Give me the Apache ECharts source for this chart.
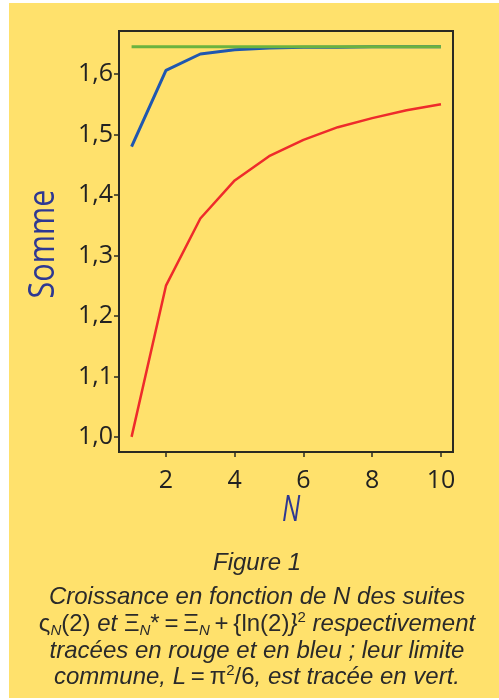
<!DOCTYPE html>
<html>
<head>
<meta charset="utf-8">
<script src="https://cdn.jsdelivr.net/npm/echarts@6/dist/echarts.min.js"></script>
<style>
html,body{margin:0;padding:0;background:#ffffff;}
#chart{width:499px;height:700px;}
</style>
</head>
<body>
<div id="chart"></div>
<script>
// ---- data ----
const nValues = [1, 2, 3, 4, 5, 6, 7, 8, 9, 10];
const zetaValues = [1.000, 1.250, 1.361, 1.424, 1.464, 1.491, 1.512, 1.527, 1.540, 1.550]; // rouge
const xiStarValues = [1.480, 1.606, 1.633, 1.640, 1.643, 1.644, 1.644, 1.645, 1.645, 1.645]; // bleu
const limitValues = [1.645, 1.645, 1.645, 1.645, 1.645, 1.645, 1.645, 1.645, 1.645, 1.645]; // vert
const xTicks = [2, 4, 6, 8, 10];
const yTicks = [1.0, 1.1, 1.2, 1.3, 1.4, 1.5, 1.6];
const yTickLabels = ['1,0', '1,1', '1,2', '1,3', '1,4', '1,5', '1,6'];
const xAxisTitle = 'N';
const yAxisTitle = 'Somme';

const YELLOW = '#FFE16C';
const INK = '#2a2a22';
const NAMEBLUE = '#2E3892';

function pairs(ys) { return nValues.map((n, i) => [n, ys[i]]); }

const chart = echarts.init(document.getElementById('chart'), null, {renderer: 'canvas'});

const tickFont = {fontFamily: '"Open Sans", "Liberation Sans", sans-serif', fontWeight: 400, fontSize: 25, color: '#222'};
const capFont = '"Liberation Sans", Arial, sans-serif';
const CAPCOL = '#2a2a2a';
const rich = {
  r: {fontFamily: capFont, fontStyle: 'normal', fontSize: 24, color: CAPCOL, lineHeight: 28},
  sub: {fontFamily: capFont, fontStyle: 'italic', fontSize: 15, color: CAPCOL, lineHeight: 15, verticalAlign: 'bottom'},
  sup: {fontFamily: capFont, fontStyle: 'normal', fontSize: 15, color: CAPCOL, lineHeight: 15, verticalAlign: 'top'}
};
function capLine(txt, y) {
  return {
    type: 'text', x: 257, y: y, z: 10, silent: true,
    style: {
      text: txt, x: 0, y: 0,
      textAlign: 'center', textVerticalAlign: 'middle',
      fontFamily: capFont, fontStyle: 'italic', fontSize: 24, fill: CAPCOL,
      lineHeight: 28, rich: rich
    }
  };
}

const option = {
  animation: false,
  backgroundColor: '#ffffff',
  graphic: [
    {type: 'rect', shape: {x: 9, y: 3, width: 490, height: 695}, style: {fill: YELLOW}, z: -100, silent: true},
    // axis titles (condensed)
    {type: 'text', x: 44, y: 244, rotation: Math.PI / 2, scaleX: 0.85, z: 10, silent: true,
     style: {text: yAxisTitle, textAlign: 'center', textVerticalAlign: 'middle',
             fontFamily: '"Open Sans", "Liberation Sans", sans-serif', fontWeight: 400, fontSize: 36, fill: NAMEBLUE}},
    {type: 'text', x: 291, y: 510, scaleX: 0.7, z: 10, silent: true,
     style: {text: xAxisTitle, textAlign: 'center', textVerticalAlign: 'middle',
             fontFamily: '"Open Sans", "Liberation Sans", sans-serif', fontWeight: 400, fontStyle: 'italic', fontSize: 37, fill: NAMEBLUE}},
    capLine('Figure 1', 563),
    capLine('Croissance en fonction de N des suites', 597),
    capLine('{r|ς}{sub|N}{r|(2)} et {r|Ξ}{sub|N}{r|*\u2009=\u2009Ξ}{sub|N}{r|\u2009+\u2009{ln(2)}}{sup|2} respectivement', 624),
    capLine('tracées en rouge et en bleu ; leur limite', 651),
    capLine('commune, L{r|\u2009=\u2009π}{sup|2}{r|/6}, est tracée en vert.', 677)
  ],
  grid: {
    left: 119, top: 31, right: 46, bottom: 248,
    show: true, borderColor: INK, borderWidth: 2, backgroundColor: 'transparent'
  },
  xAxis: {
    type: 'value', min: 0.634, max: 10.35,
    axisLine: {show: true, onZero: false, lineStyle: {color: INK, width: 2}},
    axisTick: {show: true, length: 5, inside: false, customValues: xTicks, lineStyle: {color: INK, width: 1.5}},
    axisLabel: Object.assign({margin: 16, customValues: xTicks, formatter: v => String(v)}, tickFont),
    splitLine: {show: false}
  },
  yAxis: {
    type: 'value', min: 0.975, max: 1.671,
    axisLine: {show: true, onZero: false, lineStyle: {color: INK, width: 2}},
    axisTick: {show: true, length: 5, inside: false, customValues: yTicks, lineStyle: {color: INK, width: 1.5}},
    axisLabel: Object.assign({margin: 6, customValues: yTicks,
      formatter: v => { const i = yTicks.findIndex(t => Math.abs(t - v) < 1e-6); return i >= 0 ? yTickLabels[i] : ''; }
    }, tickFont),
    splitLine: {show: false}
  },
  series: [
    {name: 'zeta', type: 'line', data: pairs(zetaValues), showSymbol: false, symbol: 'none',
     lineStyle: {color: '#EE2B2B', width: 2.5}, z: 3},
    {name: 'xi', type: 'line', data: pairs(xiStarValues), showSymbol: false, symbol: 'none',
     lineStyle: {color: '#1F57B0', width: 3}, z: 4},
    {name: 'limite', type: 'line', data: pairs(limitValues), showSymbol: false, symbol: 'none',
     lineStyle: {color: '#6BB33F', width: 3}, z: 5}
  ]
};
chart.setOption(option);
</script>
</body>
</html>
